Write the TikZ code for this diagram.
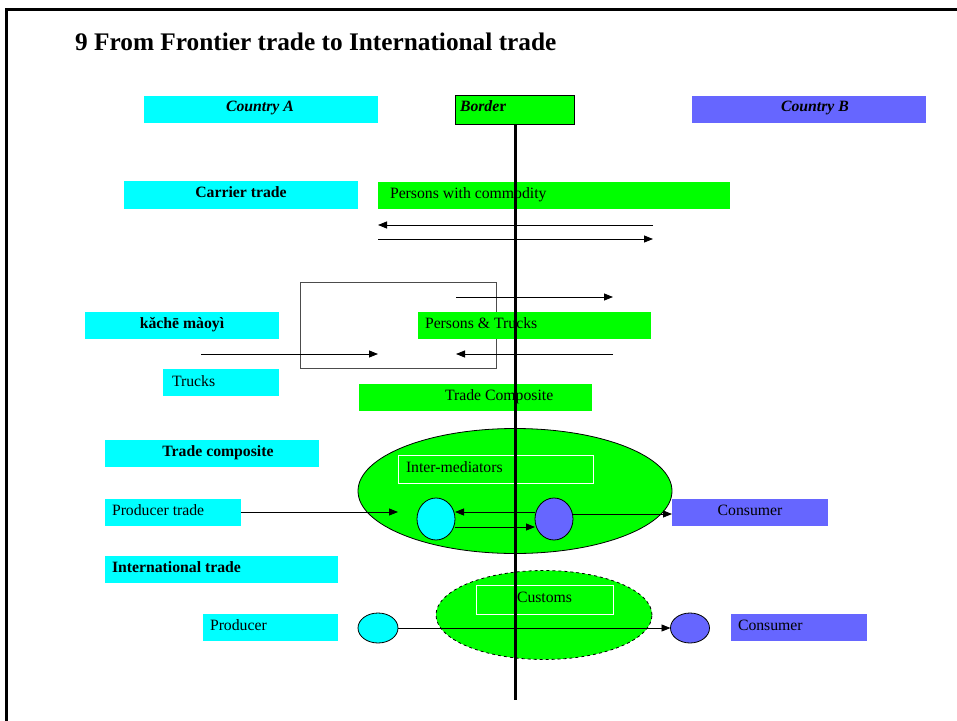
\documentclass[tikz,border=0pt]{standalone}
\usepackage{fontspec}
\setmainfont{Liberation Serif}
\usetikzlibrary{arrows.meta,shapes.geometric}
\definecolor{cy}{HTML}{00FFFF}
\definecolor{gr}{HTML}{00FF00}
\definecolor{bl}{HTML}{6666FF}
\begin{document}
\begin{tikzpicture}[x=1bp,y=-1bp,
  abox/.style={rectangle, anchor=north west, inner sep=0, outer sep=0},
  cybox/.style={abox, fill=cy},
  grbox/.style={abox, fill=gr},
  blbox/.style={abox, fill=bl},
  txt/.style={inner sep=0, outer sep=0, font=\fontsize{15.8}{18}\selectfont},
  ltxt/.style={txt, anchor=base west},
  ctxt/.style={txt, anchor=base},
  arr/.style={-{Triangle[length=9bp,width=7bp]}, line width=0.8bp},
  oval/.style={ellipse, draw=black, line width=0.8bp, inner sep=0, outer sep=0}
]
\useasboundingbox (0,0) rectangle (957,721);
% frame
\draw[line width=3bp] (6,721) -- (6,10) -- (957,10);
% title
\node[anchor=base west, inner sep=0, font=\fontsize{25.4}{28}\selectfont\bfseries] (title) at (75,51) {9 From Frontier trade to International trade};

% header boxes
\node[cybox, minimum width=234bp, minimum height=27bp] (ca) at (144,96) {};
\node[abox, fill=gr, draw=black, line width=0.8bp, minimum width=119bp, minimum height=29bp] (bd) at (455,95) {};
\node[blbox, minimum width=234bp, minimum height=27bp] (cb) at (692,96) {};
\node[ctxt, font=\fontsize{15.8}{18}\selectfont\bfseries\itshape] (tca) at (260,112) {Country A};
\node[ltxt, font=\fontsize{15.8}{18}\selectfont\bfseries] (tbd) at (460,112) {\textit{Borde}r};
\node[ctxt, font=\fontsize{15.8}{18}\selectfont\bfseries\itshape] (tcb) at (815,112) {Country B};

% carrier trade
\node[cybox, minimum width=234bp, minimum height=28bp] (ct) at (124,181) {};
\node[ctxt, font=\fontsize{15.8}{18}\selectfont\bfseries] (tct) at (241,197) {Carrier trade};
\node[grbox, minimum width=352bp, minimum height=27bp] (pc) at (378,182) {};
\node[ltxt] (tpc) at (390,198) {Persons with commodity};
\coordinate (a1s) at (653,225); \coordinate (a1e) at (378,225);
\coordinate (a2s) at (378,239); \coordinate (a2e) at (653,239);
\draw[arr] (a1s) -- (a1e);
\draw[arr] (a2s) -- (a2e);

% kache maoyi
\node[abox, draw=black!70, line width=0.8bp, minimum width=196bp, minimum height=86bp] (loop) at (300,282) {};
\node[cybox, minimum width=194bp, minimum height=27bp] (km) at (85,312) {};
\node[ctxt, font=\fontsize{15.8}{18}\selectfont\bfseries] (tkm) at (182,328) {kǎchē màoyì};
\node[grbox, minimum width=233bp, minimum height=27bp] (pt) at (418,312) {};
\node[ltxt] (tpt) at (425,328) {Persons \& Trucks};
\node[cybox, minimum width=116bp, minimum height=27bp] (tr) at (163,369) {};
\node[ltxt] (ttr) at (172,386) {Trucks};
\node[grbox, minimum width=233bp, minimum height=27bp] (tcg) at (359,384) {};
\node[ltxt] (ttcg) at (445,400) {Trade Composite};
\coordinate (b1s) at (456,297); \coordinate (b1e) at (613,297);
\coordinate (b2s) at (201,354); \coordinate (b2e) at (378,354);
\coordinate (b3s) at (613,354); \coordinate (b3e) at (456,354);
\draw[arr] (b1s) -- (b1e);
\draw[arr] (b2s) -- (b2e);
\draw[arr] (b3s) -- (b3e);

% trade composite
\node[cybox, minimum width=214bp, minimum height=27bp] (tcc) at (105,440) {};
\node[ctxt, font=\fontsize{15.8}{18}\selectfont\bfseries] (ttcc) at (218,456) {Trade composite};
\node[oval, fill=gr, minimum width=314bp, minimum height=125bp] (med) at (515,491) {};
\node[abox, draw=white, line width=0.8bp, minimum width=195bp, minimum height=28bp] (im) at (398,455) {};
\node[ltxt] (tim) at (406,472) {Inter-mediators};
\node[cybox, minimum width=136bp, minimum height=27bp] (prt) at (105,499) {};
\node[ltxt] (tprt) at (112,515) {Producer trade};
\node[blbox, minimum width=156bp, minimum height=27bp] (con1) at (672,499) {};
\node[ctxt] (tcon1) at (750,515) {Consumer};
\node[oval, fill=cy, minimum width=38bp, minimum height=42bp] (e1) at (436,519) {};
\node[oval, fill=bl, minimum width=38bp, minimum height=42bp] (e2) at (554,519) {};
\coordinate (c1s) at (241,512); \coordinate (c1e) at (398,512);
\draw[arr] (c1s) -- (c1e);
\coordinate (c2s) at (535,512); \coordinate (c2e) at (455,512);
\draw[arr] (c2s) -- (c2e);
\coordinate (c3s) at (455,527); \coordinate (c3e) at (535,527);
\draw[arr] (c3s) -- (c3e);
\coordinate (c4s) at (573,514); \coordinate (c4e) at (672,514);
\draw[arr] (c4s) -- (c4e);

% international trade
\node[cybox, minimum width=233bp, minimum height=27bp] (it) at (105,556) {};
\node[ltxt, font=\fontsize{15.8}{18}\selectfont\bfseries] (tit) at (112,572) {International trade};
\node[oval, dashed, fill=gr, minimum width=216bp, minimum height=89bp] (cus) at (544,615) {};
\node[abox, draw=white, line width=0.8bp, minimum width=137bp, minimum height=29bp] (cr) at (476,585) {};
\node[ltxt] (tcr) at (517,602) {Customs};
\node[cybox, minimum width=135bp, minimum height=27bp] (pr) at (203,614) {};
\node[ltxt] (tpr) at (210,630) {Producer};
\node[blbox, minimum width=136bp, minimum height=27bp] (con2) at (731,614) {};
\node[ltxt] (tcon2) at (738,630) {Consumer};
\node[oval, fill=cy, minimum width=40bp, minimum height=30bp] (p1) at (378,628) {};
\node[oval, fill=bl, minimum width=39bp, minimum height=30bp] (p2) at (690,628) {};
\draw[arr] (p1.east) -- (p2.west);

% border line
\coordinate (bend) at (515,700);
\draw[line width=3bp] (515,124) -- (bend);
\end{tikzpicture}
\end{document}
